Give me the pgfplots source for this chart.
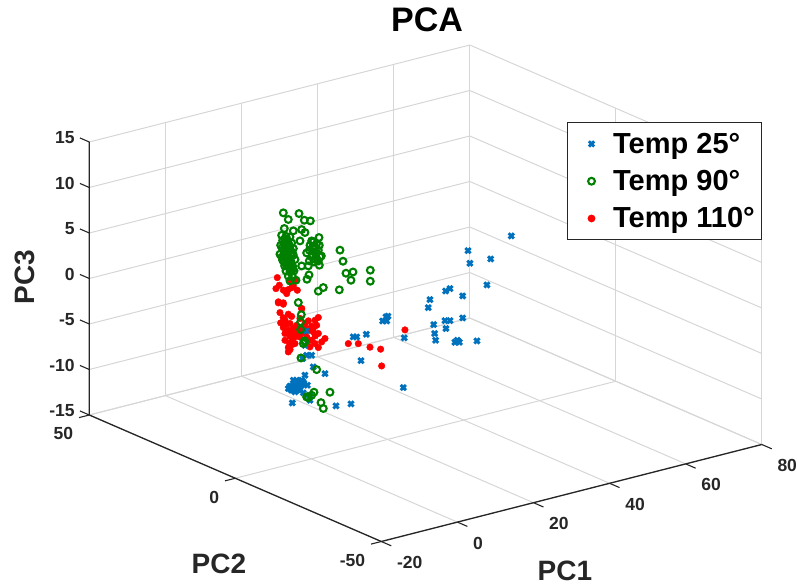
\documentclass[border=0pt]{standalone}
\usepackage{fontspec}
\setmainfont{Liberation Sans}
\usepackage{pgfplots}
\pgfplotsset{compat=1.18}
\definecolor{axc}{HTML}{262626}
\definecolor{blu}{HTML}{0072BD}
\definecolor{grn}{HTML}{008000}
\definecolor{gridc}{HTML}{D6D6D6}
\begin{document}
\begin{tikzpicture}[x=1pt,y=1pt]
\useasboundingbox (0,0) rectangle (797,586);
\begin{axis}[
  at={(311.4pt,263.65pt)}, anchor=origin,
  x={(3.805pt,0.97pt)}, y={(-2.92pt,1.265pt)}, z={(0pt,9.1pt)},
  xmin=-20,xmax=80,ymin=-50,ymax=50,zmin=-15,zmax=15,
  xtick={-20,0,20,40,60,80}, ytick={-50,0,50}, ztick={-15,-10,-5,0,5,10,15},
  grid=major, major grid style={gridc,line width=1pt},
  axis line style={draw=none},
  tick align=outside, major tick length=10pt,
  tick style={draw=none},
  clip=false,
  /pgf/number format/assume math mode=true,
  ticklabel style={font=\fontsize{17.5}{17.5}\selectfont\bfseries,text=axc},
  xticklabel style={anchor=west,xshift=3pt,yshift=-17pt},
  yticklabel style={anchor=east,xshift=-3pt,yshift=-16.5pt},
  zticklabel style={anchor=east,xshift=-2pt},
  title={PCA}, title style={at={(axis cs:30.38,0,29.3)},anchor=center,font=\fontsize{34}{34}\selectfont\bfseries},
  xlabel={PC1}, xlabel style={at={(axis cs:66.64,0,-34.46)},anchor=center,font=\fontsize{28}{28}\selectfont\bfseries,text=axc},
  ylabel={PC2}, ylabel style={at={(axis cs:-24.29,0,-24.0)},anchor=center,font=\fontsize{28}{28}\selectfont\bfseries,text=axc},
  zlabel={PC3}, zlabel style={at={(axis cs:-75.27,0,12.98)},anchor=center,rotate=0,font=\fontsize{28}{28}\selectfont\bfseries,text=axc},
  legend style={at={(axis cs:67.1,0,14.87)},anchor=north west,font=\fontsize{29}{29}\selectfont\bfseries,draw=axc,line width=1.3pt,row sep=11.5pt,inner xsep=4.5pt,inner ysep=8.5pt},
  legend cell align=left,
  legend image code/.code={\path (0pt,-2pt) (38pt,2pt); \draw[#1] plot coordinates {(19pt,0pt)};},
]
\addlegendimage{mark=x,blu,mark size=3.7pt,mark options={line width=2.9pt}}
\addlegendimage{mark=o,grn,mark size=3.4pt,mark options={line width=2.1pt,fill=none}}
\addlegendimage{mark=*,red,mark size=3.2pt}
\addlegendentry{Temp 25°}
\addlegendentry{Temp 90°}
\addlegendentry{Temp 110°}
% Temp 110
\addplot3[forget plot,only marks,mark=*,red,mark size=3.3pt] coordinates {
(-8.96,0,5.87)(-9.31,0,4.70)(-8.43,0,4.98)(-7.38,0,4.32)(-6.07,0,4.25)(-5.19,0,4.37)(-6.50,0,3.85)(-8.69,0,3.18)(-7.38,0,2.93)(-2.56,0,1.79)(-4.75,0,4.48)(-3.70,0,3.92)(-5.63,0,5.05)(-4.31,0,5.09)
(-8.69,0,3.07)(-7.38,0,2.78)(-8.26,0,1.95)(-6.07,0,1.54)(-2.56,0,1.78)(1.82,0,0.34)(0.94,0,0.13)(-8.08,0,0.80)(-6.94,0,0.97)(-5.63,0,0.47)(-7.38,0,0.22)(-4.75,0,-0.17)(-6.07,0,-0.22)(-3.88,0,0.09)(-0.81,0,0.25)(0.07,0,-0.44)(-1.25,0,-0.55)(1.38,0,-0.47)(-6.94,0,-0.49)(-5.63,0,-0.93)(-4.31,0,-1.14)(-6.94,0,-1.23)(-5.80,0,-1.64)(-4.31,0,-1.87)(-6.07,0,-2.12)(-6.07,0,-2.60)(-4.93,0,-1.26)(0.07,0,-1.98)(0.94,0,-2.43)(2.69,0,-2.44)(3.57,0,-2.16)(-0.37,0,-2.66)(1.82,0,-2.96)(0.50,0,-1.10)
(9.70,0,-3.37)(12.33,0,-3.65)(15.40,0,-4.37)(18.20,0,-4.89)(18.46,0,-6.76)(24.59,0,-3.45)(-3.00,0,0.74)(-1.69,0,0.05)(-0.55,0,-0.81)(1.82,0,-1.42)
(-5.2,0,1.2)(-7.4,0,1.3)(-6.5,0,0.5)(-3.0,0,-0.4)(-2.0,0,-0.9)(-3.0,0,-1.3)(-1.2,0,-1.5)(-0.5,0,-1.9)(-5.2,0,-0.6)(-3.6,0,-0.7)(-5.0,0,-1.9)(-5.6,0,-2.4)(0.6,0,-0.6)(1.0,0,-1.6)
};
% Temp 25
\addplot3[forget plot,only marks,mark=x,blu,mark size=3.7pt,mark options={line width=2.9pt}] coordinates {
(-1.42,0,-0.79)(-1.69,0,-2.34)(-1.25,0,-3.48)(0.07,0,-3.62)(-2.30,0,-3.74)(0.50,0,-4.95)(3.57,0,-6.01)(-5.01,0,-8.32)(6.46,0,-9.87)(10.40,0,-10.07)(-0.37,0,-8.52)(-1.69,0,-5.63)
(-6.07,0,-6.63)(-5.19,0,-6.47)(-4.31,0,-6.27)(-3.44,0,-6.17)(-2.56,0,-6.09)(-5.19,0,-6.91)(-4.05,0,-6.85)(-3.00,0,-6.70)(-1.95,0,-6.52)(-1.07,0,-6.80)(-4.75,0,-5.85)(-3.00,0,-7.14)(-2.12,0,-7.52)(-4.31,0,-7.18)(-5.63,0,-6.42)(-3.88,0,-5.95)(-0.55,0,-7.95)
(52.54,0,3.90)(41.15,0,3.50)(47.11,0,1.95)(41.67,0,2.05)(46.14,0,-0.81)(39.75,0,-1.33)(36.42,0,-0.17)(35.28,0,-0.31)(31.16,0,-0.82)(30.72,0,-1.66)(39.75,0,-3.75)(36.42,0,-3.69)(35.10,0,-3.55)(35.37,0,-4.45)(32.13,0,-3.67)(32.39,0,-4.68)(32.65,0,-5.45)(37.73,0,-6.21)(38.87,0,-6.33)(38.35,0,-6.06)(43.51,0,-6.68)(24.42,0,-4.31)(20.12,0,-1.47)(18.72,0,-1.84)(19.77,0,-1.95)(19.60,0,-1.49)(14.43,0,-2.85)(11.01,0,-2.77)(11.89,0,-2.87)(13.03,0,-5.59)(24.15,0,-9.74)
(-4.9,0,-6.6)(-4.0,0,-6.5)(-3.4,0,-6.5)(-4.6,0,-7.0)(-3.5,0,-7.0)(-2.5,0,-6.6)(-2.2,0,-6.3)(-4.4,0,-6.1)(-5.6,0,-6.7)
};
% Temp 90
\addplot3[forget plot,only marks,mark=o,grn,mark size=3.4pt,mark options={line width=2.1pt,fill=none}] coordinates {
(-7.38,0,12.82)(-3.26,0,12.30)(-6.07,0,11.95)(-1.86,0,11.42)(-0.28,0,11.18)(-4.75,0,10.56)(-2.56,0,10.47)(-1.69,0,10.05)(-7.12,0,11.07)(1.99,0,9.11)(-3.00,0,9.27)(0.07,0,8.94)(1.38,0,8.51)(7.51,0,7.13)(8.30,0,5.83)(9.09,0,4.43)(10.93,0,4.37)(15.48,0,4.08)(10.40,0,3.52)(15.48,0,2.87)(7.34,0,2.79)(3.13,0,3.49)(1.82,0,3.23)(-1.16,0,4.86)(-0.63,0,5.28)(-2.56,0,6.47)(-0.81,0,6.29)(2.08,0,6.06)(2.61,0,7.02)(-1.25,0,7.76)(-3.44,0,2.54)
(-7.82,0,10.40)(-6.68,0,10.17)(-5.63,0,9.99)(-7.55,0,9.82)(-6.50,0,9.53)(-5.19,0,9.28)(-8.08,0,9.33)(-6.94,0,9.03)(-5.80,0,8.91)(-4.75,0,8.62)(-7.38,0,8.72)(-6.33,0,8.41)(-5.19,0,8.18)(-8.26,0,8.37)(-7.12,0,8.03)(-5.98,0,7.83)(-4.75,0,7.89)(-7.55,0,7.63)(-6.50,0,7.33)(-5.45,0,7.33)(-4.31,0,7.36)(-7.03,0,6.95)(-5.98,0,6.73)(-4.93,0,6.69)(-6.68,0,6.36)(-5.63,0,6.14)(-4.58,0,6.14)(-6.07,0,5.72)(-4.93,0,5.52)(-5.63,0,5.16)(-4.05,0,5.06)(-6.33,0,9.69)(-7.21,0,9.43)(-5.45,0,8.51)(-6.68,0,7.83)(-5.80,0,7.08)
(-0.37,0,8.51)(0.94,0,8.19)(2.08,0,8.25)(-0.55,0,7.99)(0.68,0,7.67)(1.82,0,7.74)(0.07,0,7.18)(1.20,0,7.06)(2.26,0,6.95)(-0.55,0,6.81)(0.68,0,6.57)(1.82,0,6.56)(0.50,0,8.79)
(-2.65,0,1.13)(-2.82,0,0.35)(-2.82,0,-0.49)(-1.86,0,-1.84)(-2.12,0,-2.10)(-2.74,0,-3.62)(1.38,0,-5.34)(4.88,0,-8.20)(0.68,0,-7.75)(0.07,0,-8.02)(-0.81,0,-8.18)(2.52,0,-9.09)(3.13,0,-9.80)(-1.69,0,-1.97)(-1.25,0,-8.06)
(-7.0,0,9.9)(-6.0,0,9.3)(-7.7,0,9.0)(-6.9,0,8.5)(-5.9,0,8.6)(-7.8,0,8.0)(-6.8,0,8.2)(-5.4,0,7.9)(-7.2,0,7.4)(-6.2,0,7.6)(-6.4,0,6.9)(-5.4,0,6.7)(-5.2,0,6.2)(0.3,0,8.2)(1.3,0,7.5)(0.3,0,7.4)(1.0,0,6.8)
};
\draw[axc,line width=1.3pt] (axis cs:-20,50,15) -- (axis cs:-20,50,-15) -- (axis cs:-20,-50,-15) -- (axis cs:80,-50,-15);
% tick marks
\draw[axc,line width=1.1pt]
 (axis cs:-20,-50,-15) -- (axis cs:-20,-53.4,-15)
 (axis cs:0,-50,-15) -- (axis cs:0,-53.4,-15)
 (axis cs:20,-50,-15) -- (axis cs:20,-53.4,-15)
 (axis cs:40,-50,-15) -- (axis cs:40,-53.4,-15)
 (axis cs:60,-50,-15) -- (axis cs:60,-53.4,-15)
 (axis cs:80,-50,-15) -- (axis cs:80,-53.4,-15)
 (axis cs:-20,50,-15) -- (axis cs:-22.7,50,-15)
 (axis cs:-20,0,-15) -- (axis cs:-22.7,0,-15)
 (axis cs:-20,-50,-15) -- (axis cs:-22.7,-50,-15)
 (axis cs:-20,50,-15) -- (axis cs:-20,53.2,-15)
 (axis cs:-20,50,-10) -- (axis cs:-20,53.2,-10)
 (axis cs:-20,50,-5) -- (axis cs:-20,53.2,-5)
 (axis cs:-20,50,0) -- (axis cs:-20,53.2,0)
 (axis cs:-20,50,5) -- (axis cs:-20,53.2,5)
 (axis cs:-20,50,10) -- (axis cs:-20,53.2,10)
 (axis cs:-20,50,15) -- (axis cs:-20,53.2,15);
\end{axis}
\end{tikzpicture}
\end{document}
